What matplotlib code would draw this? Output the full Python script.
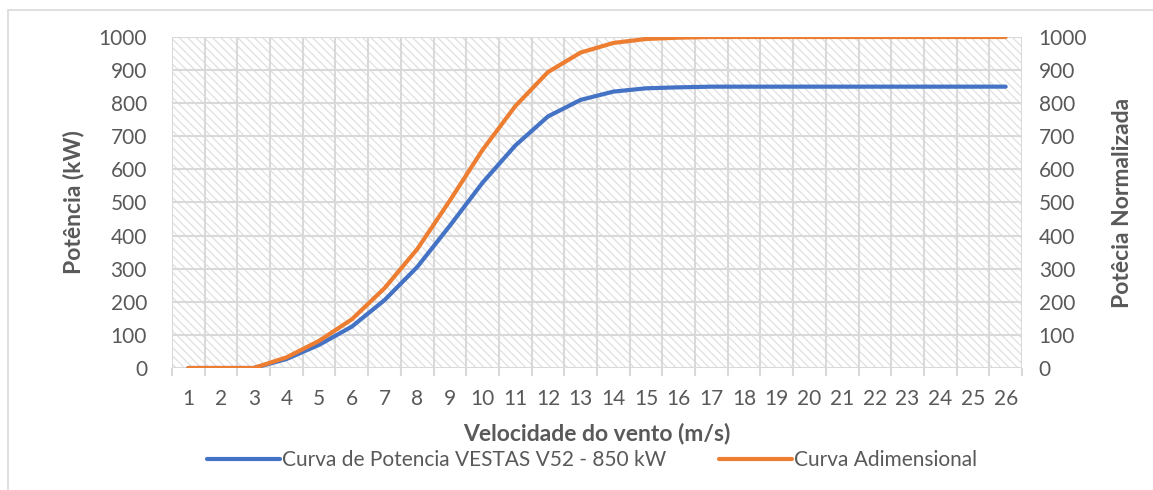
import matplotlib
matplotlib.use("Agg")
import numpy as np
from matplotlib import pyplot as plt
from matplotlib.patches import Rectangle

# wind speed categories (m/s)
velocidade = list(range(1, 27))
# VESTAS V52 power curve (kW)
potencia = [0, 0, 0, 27, 70, 125, 205, 305, 430, 560, 672, 760, 810, 835, 845, 848,
            850, 850, 850, 850, 850, 850, 850, 850, 850, 850]
# normalized curve (0-1000)
adimensional = [0, 0, 0, 32, 82, 147, 241, 359, 506, 659, 791, 894, 953, 982, 994, 998,
                1000, 1000, 1000, 1000, 1000, 1000, 1000, 1000, 1000, 1000]
yticks = list(range(0, 1001, 100))

plt.rcParams['font.family'] = ['Lato', 'DejaVu Sans']
plt.rcParams['hatch.color'] = '#e0e0e0'
plt.rcParams['hatch.linewidth'] = 0.9

gray = '#595959'
grid = '#d9d9d9'

fig = plt.figure(figsize=(11.53, 4.9), dpi=100)
ax = fig.add_axes([172 / 1153, 1 - 368 / 490, 850 / 1153, 331 / 490])
ax2 = ax.twinx()

x = np.arange(len(velocidade))
ax.set_xlim(-0.5, len(velocidade) - 0.5)
ax.set_ylim(0, 1000)
ax2.set_ylim(0, 1000)

# hatched background
ax.add_patch(Rectangle((0, 0), 1, 1, transform=ax.transAxes, facecolor='white',
                       edgecolor='#e0e0e0', hatch='\\\\\\\\', lw=0, zorder=0))
for b in np.arange(-0.5, len(velocidade), 1.0):
    ax.axvline(b, color=grid, lw=1.5, zorder=1)
for t in yticks:
    ax.axhline(t, color=grid, lw=1.5, zorder=1)

l1, = ax.plot(x, potencia, color='#4472c4', lw=3, zorder=3, solid_capstyle='round',
              label='Curva de Potencia VESTAS V52 - 850 kW')
l2, = ax2.plot(x, adimensional, color='#ed7d31', lw=3, zorder=3, solid_capstyle='round',
               label='Curva Adimensional')

ax.set_xticks(x)
ax.set_xticklabels([str(v) for v in velocidade])
ax.set_xticks(np.arange(-0.5, len(velocidade), 1.0), minor=True)
ax.tick_params(axis='x', which='major', length=0, pad=15, labelsize=15, labelcolor=gray)
ax.tick_params(axis='x', which='minor', length=6, color=grid, width=1.5)
ax.set_yticks(yticks)
ax2.set_yticks(yticks)
ax.tick_params(axis='y', length=0, pad=18, labelsize=15, labelcolor=gray)
ax2.tick_params(axis='y', length=0, pad=12, labelsize=15, labelcolor=gray)

for a in (ax, ax2):
    for s in a.spines.values():
        s.set_visible(False)

ax.set_xlabel('Velocidade do vento (m/s)', fontsize=16.5, fontweight='bold', color=gray, labelpad=10)
ax.set_ylabel('Potência (kW)', fontsize=16.5, fontweight='bold', color=gray, labelpad=10)
ax2.set_ylabel('Potêcia Normalizada', fontsize=16.5, fontweight='bold', color=gray, labelpad=18)

fig.legend(handles=[l1, l2], loc='center', bbox_to_anchor=(592 / 1153, 1 - 460 / 490),
           ncol=2, frameon=False, fontsize=15, labelcolor=gray, columnspacing=2.5,
           handlelength=3.5, handletextpad=0.1)

# chart border
fig.add_artist(Rectangle((8 / 1153, -0.1), 1.2, 1 - 10 / 490 + 0.1, transform=fig.transFigure,
                         fill=False, edgecolor='#d9d9d9', lw=1.2))

fig.savefig('out.png', dpi=100)
